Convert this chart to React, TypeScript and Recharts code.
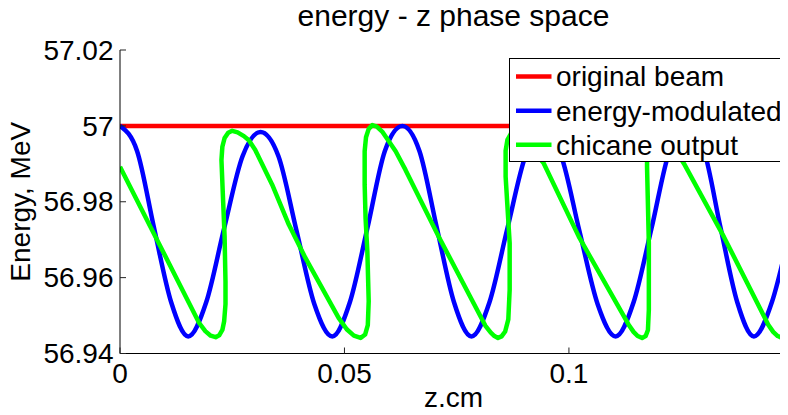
import React from 'react';
import { LineChart, Line, XAxis, YAxis, Legend } from 'recharts';

const FONT = '"Liberation Sans", Arial, Helvetica, sans-serif';

const chartTitle = 'energy - z phase space';
const xLabel = 'z,cm';
const yLabel = 'Energy, MeV';

const xTicks = [0, 0.05, 0.1];
const xTickLabels = ['0', '0.05', '0.1'];
const yTicks = [56.94, 56.96, 56.98, 57, 57.02];
const yTickLabels = ['56.94', '56.96', '56.98', '57', '57.02'];

const seriesNames = ['original beam', 'energy-modulated', 'chicane output'];
const seriesColors = ['#ff0000', '#0000ff', '#00ff00'];

// [z (cm), energy (MeV)]
const originalBeam: [number, number][] = [
  [0, 57.0],
  [0.1488, 57.0],
];

const energyModulated: [number, number][] = [
  [0.0, 57.0], [0.0038, 56.9934], [0.0076, 56.973], [0.0114, 56.9535], [0.0152, 56.9445],
  [0.0192, 56.9535], [0.0232, 56.973], [0.0273, 56.992], [0.0313, 56.9984],
  [0.0353, 56.992], [0.0393, 56.9725], [0.0433, 56.953], [0.0473, 56.9445],
  [0.0512, 56.9535], [0.0551, 56.973], [0.059, 56.9934], [0.0629, 57.0],
  [0.0667, 56.9934], [0.0706, 56.973], [0.0744, 56.9535], [0.0783, 56.9445],
  [0.0823, 56.9535], [0.0863, 56.973], [0.0903, 56.992], [0.0943, 56.9985],
  [0.0983, 56.992], [0.1023, 56.9725], [0.1064, 56.953], [0.1104, 56.9445],
  [0.1144, 56.9535], [0.1184, 56.973], [0.1224, 56.9934], [0.1264, 57.0],
  [0.1301, 56.9934], [0.1338, 56.973], [0.1375, 56.9535], [0.1412, 56.9445],
  [0.1452, 56.9535], [0.149, 56.9712],
];

const chicaneOutput: [number, number][] = [
  [0.0, 56.9892], [0.0079, 56.9708], [0.0176, 56.9481], [0.019, 56.9459], [0.0202, 56.9447], [0.0213, 56.9443],
  [0.0221, 56.9448], [0.0228, 56.9462], [0.0232, 56.9485], [0.0235, 56.953], [0.0235, 56.959], [0.0234, 56.9647], [0.0233, 56.9708],
  [0.0229, 56.9822], [0.0226, 56.991], [0.0228, 56.9945], [0.0233, 56.9968], [0.0241, 56.9982], [0.025, 56.9987],
  [0.0262, 56.9983], [0.0276, 56.9973], [0.0287, 56.9962], [0.0301, 56.9937], [0.0339, 56.9845], [0.0376, 56.974],
  [0.0413, 56.9652], [0.0487, 56.9494], [0.0505, 56.9464], [0.0521, 56.9447], [0.0536, 56.9441], [0.0546, 56.945], [0.0552, 56.9475],
  [0.0554, 56.9538], [0.0551, 56.9669], [0.0547, 56.9757], [0.0545, 56.9845], [0.0545, 56.9933],
  [0.0548, 56.997], [0.0554, 56.9992], [0.0562, 57.0002], [0.0572, 56.9998], [0.0584, 56.9985], [0.0614, 56.9933], [0.0636, 56.9884],
  [0.071, 56.9708], [0.0814, 56.9473], [0.0826, 56.9455], [0.0834, 56.9446], [0.0842, 56.9441], [0.085, 56.9445], [0.0858, 56.9458],
  [0.0865, 56.949], [0.0868, 56.9568], [0.0868, 56.9691], [0.0859, 56.9866], [0.0859, 56.9935], [0.0863, 56.9963],
  [0.087, 56.9978], [0.0879, 56.9985], [0.0892, 56.9976], [0.0944, 56.9901], [0.1022, 56.9708],
  [0.1133, 56.9476], [0.1144, 56.9457], [0.1153, 56.9446], [0.1163, 56.9441], [0.1171, 56.9446], [0.1176, 56.9462],
  [0.1178, 56.9515], [0.1178, 56.9691], [0.1174, 56.9892], [0.1174, 56.9962], [0.1178, 56.9982], [0.1185, 56.9995],
  [0.1193, 56.9999], [0.1208, 56.9991], [0.1256, 56.9901], [0.1345, 56.9708], [0.1444, 56.9476], [0.1455, 56.9457],
  [0.1465, 56.9446], [0.1475, 56.9441], [0.1484, 56.9452], [0.1489, 56.9471],
];

const toRows = (pts: [number, number][]) => pts.map(([z, e]) => ({ z, e }));

const X_DOMAIN: [number, number] = [0, 0.1488];
const Y_DOMAIN: [number, number] = [56.94, 57.02];

const W = 788;
const H = 415;
const FS = 28;

const nearestIndex = (arr: number[], v: number) => {
  let best = 0;
  for (let i = 1; i < arr.length; i++) if (Math.abs(arr[i] - v) < Math.abs(arr[best] - v)) best = i;
  return best;
};

const BottomTick = (props: any) => {
  const { x, y, payload } = props;
  const i = nearestIndex(xTicks, payload.value);
  return (
    <g>
      <line x1={x} x2={x} y1={y} y2={y - 6} stroke="#222" strokeWidth={1} />
      <text x={x} y={y + 29} textAnchor="middle" fontSize={FS} fontFamily={FONT} fill="#000">
        {xTickLabels[i]}
      </text>
    </g>
  );
};

const TopTick = (props: any) => {
  const { x, y } = props;
  return <line x1={x} x2={x} y1={y} y2={y + 6} stroke="#222" strokeWidth={1} />;
};

const LeftTick = (props: any) => {
  const { x, y, payload } = props;
  const i = nearestIndex(yTicks, payload.value);
  return (
    <g>
      <line x1={x} x2={x + 6} y1={y} y2={y} stroke="#222" strokeWidth={1} />
      <text x={x - 6.5} y={y + 9.7} textAnchor="end" fontSize={FS} fontFamily={FONT} fill="#000">
        {yTickLabels[i]}
      </text>
    </g>
  );
};

const RightTick = (props: any) => {
  const { x, y } = props;
  return <line x1={x} x2={x - 6} y1={y} y2={y} stroke="#222" strokeWidth={1} />;
};

const XLabel = (props: any) => (
  <text x={props.lx} y={props.ly} textAnchor="middle" fontSize={FS} fontFamily={FONT} fill="#000">
    {xLabel}
  </text>
);

const YLabel = (props: any) => (
  <text
    x={props.lx}
    y={props.ly}
    textAnchor="middle"
    fontSize={FS}
    fontFamily={FONT}
    fill="#000"
    transform={`rotate(-90 ${props.lx} ${props.ly})`}
  >
    {yLabel}
  </text>
);

const LegendBox = () => {
  const rowsY = [18.4, 52.7, 86.7];
  return (
    <svg width={279} height={105} style={{ display: 'block', overflow: 'visible' }}>
      <rect x={0.5} y={0.5} width={277} height={103} fill="#fff" stroke="#000" strokeWidth={1} />
      {seriesNames.map((name, i) => (
        <g key={name}>
          <line x1={7} x2={42.5} y1={rowsY[i]} y2={rowsY[i]} stroke={seriesColors[i]} strokeWidth={4.5} />
          <text x={47} y={rowsY[i] + 10} fontSize={FS} fontFamily={FONT} fill="#000">
            {name}
          </text>
        </g>
      ))}
    </svg>
  );
};

export default function App() {
  return (
    <div
      style={{
        position: 'relative',
        margin: -8,
        width: W,
        height: H,
        overflow: 'hidden',
        fontFamily: FONT,
        background: '#fff',
      }}
    >
      <LineChart width={W} height={H} margin={{ top: 50, right: 0, bottom: 0, left: 0 }}>
        <XAxis
          xAxisId="b"
          dataKey="z"
          type="number"
          domain={X_DOMAIN}
          ticks={xTicks}
          interval={0}
          allowDataOverflow
          height={61.5}
          tickSize={0}
          tickMargin={0}
          tickLine={false}
          axisLine={{ stroke: '#000', strokeWidth: 1 }}
          tick={<BottomTick />}
          label={<XLabel lx={453.5} ly={406.5} />}
        />
        <XAxis
          xAxisId="t"
          orientation="top"
          dataKey="z"
          type="number"
          domain={X_DOMAIN}
          ticks={xTicks}
          interval={0}
          allowDataOverflow
          height={0}
          tickSize={0}
          tickMargin={0}
          tickLine={false}
          axisLine={{ stroke: '#000', strokeWidth: 1 }}
          tick={<TopTick />}
        />
        <YAxis
          yAxisId="l"
          type="number"
          domain={Y_DOMAIN}
          ticks={yTicks}
          interval={0}
          allowDataOverflow
          width={120}
          tickSize={0}
          tickMargin={0}
          tickLine={false}
          axisLine={{ stroke: '#000', strokeWidth: 1 }}
          tick={<LeftTick />}
          label={<YLabel lx={30} ly={201.75} />}
        />
        <YAxis
          yAxisId="r"
          orientation="right"
          type="number"
          domain={Y_DOMAIN}
          ticks={yTicks}
          interval={0}
          allowDataOverflow
          width={0}
          tickSize={0}
          tickMargin={0}
          tickLine={false}
          axisLine={false}
          tick={<RightTick />}
        />
        <Line
          xAxisId="b"
          yAxisId="l"
          data={toRows(originalBeam)}
          dataKey="e"
          name={seriesNames[0]}
          type="linear"
          stroke={seriesColors[0]}
          strokeWidth={4.5}
          dot={false}
          activeDot={false}
          isAnimationActive={false}
        />
        <Line
          xAxisId="b"
          yAxisId="l"
          data={toRows(energyModulated)}
          dataKey="e"
          name={seriesNames[1]}
          type="monotone"
          stroke={seriesColors[1]}
          strokeWidth={4.5}
          dot={false}
          activeDot={false}
          isAnimationActive={false}
        />
        <Line
          xAxisId="b"
          yAxisId="l"
          data={toRows(chicaneOutput)}
          dataKey="e"
          name={seriesNames[2]}
          type="linear"
          stroke={seriesColors[2]}
          strokeWidth={4.5}
          strokeLinejoin="round"
          dot={false}
          activeDot={false}
          isAnimationActive={false}
        />
        <Legend
          layout="vertical"
          align="center"
          verticalAlign="middle"
          wrapperStyle={{ left: 509, top: 58, width: 279, height: 105 }}
          content={() => <LegendBox />}
        />
      </LineChart>
      <svg
        width={W}
        height={40}
        style={{ position: 'absolute', left: 0, top: 0, pointerEvents: 'none' }}
      >
        <text x={453.5} y={26} textAnchor="middle" fontSize={30} fontFamily={FONT} fill="#000">
          {chartTitle}
        </text>
      </svg>
    </div>
  );
}
